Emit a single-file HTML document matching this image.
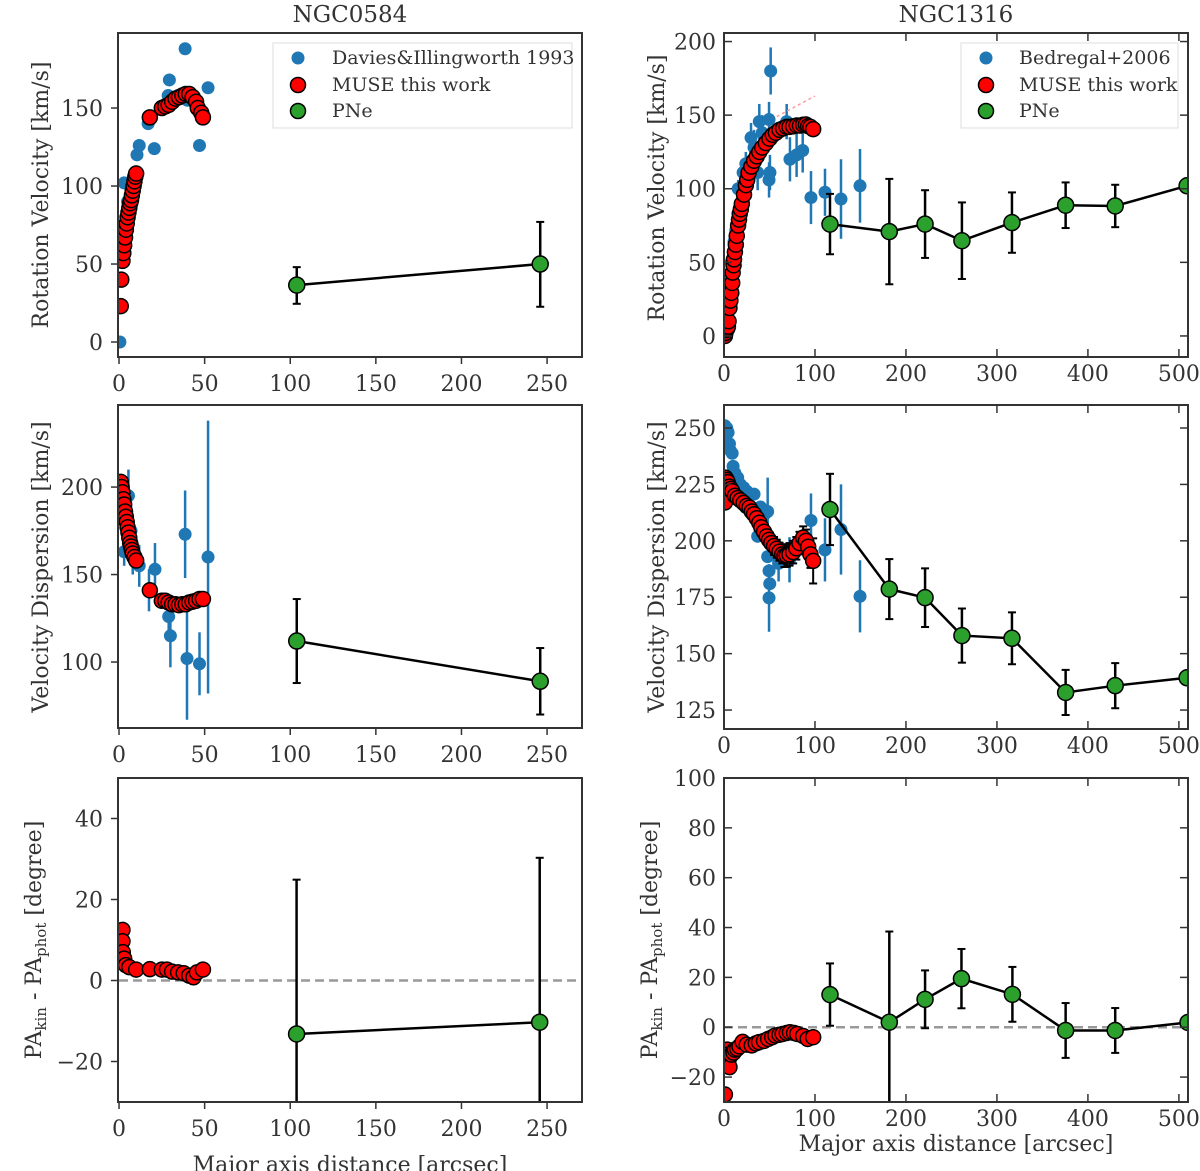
<!DOCTYPE html>
<html><head><meta charset="utf-8"><style>
html,body{margin:0;padding:0;background:#fff;}
svg{display:block;font-family:"DejaVu Serif","Liberation Serif",serif;}
</style></head><body>
<svg id="fig" width="1200" height="1171" viewBox="0 0 1200 1171" xmlns="http://www.w3.org/2000/svg"></svg>
<script>
// ===== NGC0584 data =====
const n584RotBlueX=[0.5,3,5,10.5,11.8,17,20.6,28.7,29.4,38.6,40,47,52];
const n584RotBlueY=[0,102,90,120,126,140,124,158,168,188,155,126,163];
const n584RotRedX=[1,1.3,2,2.5,3,3.5,4,4.5,5,5.5,6,6.5,7,7.5,8,8.5,9,9.5,10,18,25,27,29,31,33,35,37,39,41,43,45,46,48,49];
const n584RotRedY=[23,40,52,57,62,67,72,76,80,83,86,89,91,94,97,100,103,106,108,144,150,151,152,154,156,157,158,159,159,157,154,150,147,144];
const n584RotPNX=[103.8,246];
const n584RotPNY=[36.5,50];
const n584RotPNLo=[12,27.4];
const n584RotPNHi=[11.5,27];

const n584DispBlueX=[3,5.5,7,8,11.8,17.5,21,29,30,38.6,39.7,47,52];
const n584DispBlueY=[163,195,175,165,155,141,153,126,115,173,102,99,160];
const n584DispBlueE=[8,15,15,15,12,12,15,10,18,25,35,18,78];
const n584DispRedX=[1,1.5,2,2.5,3,3.5,4,4.5,5,5.5,6,6.5,7,7.5,8,9,10,18,25,27,29,31,33,35,37,39,41,43,45,47,49];
const n584DispRedY=[203,200,197,193,190,186,183,180,177,174,171,168,166,164,162,160,158,141,135,135,134,133,133,132.5,133,133,134,134.5,135,136,136];
const n584DispPNX=[103.8,246];
const n584DispPNY=[112,89];
const n584DispPNE=[24,19];

const n584PARedX=[2,2,2.2,3,4,6,10,18,25,28,31,34.5,37.8,41,43.5,45.5,49];
const n584PARedY=[12.5,9.7,7,5.4,3.8,3.3,2.7,2.8,2.7,2.7,2.2,2,1.8,1.2,0.8,2,2.7];
const n584PAPNX=[103.7,245.7];
const n584PAPNY=[-13.2,-10.3];
const n584PAPNE=[38.1,40.6];

// ===== NGC1316 data =====
const n1316RotBlueX=[3,5,6,8,11,13,15.6,18,21,24,27,29.7,33,37,38.8,42,49.5,49.5,50.5,51.3,68.9,72.5,79.8,86.5,95.6,111,128.6,149.5];
const n1316RotBlueY=[20,29,42,50,64,72,100,90,111,117,108,134.7,128,111,145.6,138,147,106,111,180,145.6,120,123,126,94,97.6,93,102];
const n1316RotBlueE=[5,5,5,6,6,6,6,8,8,8,10,10,12,12,12,12,12,12,12,16,12,15,15,15,18,16,27,25];
const n1316RotRedX=[1,1.5,2.5,3.5,4.3,5,6,7,8,9,9.5,10.5,11,12,13,14,15.5,16.5,17.3,18.5,19.6,22,24,25.5,27,30,33,36,38.8,42,46,50,53.6,57,61,65,68.9,72,76,80,83.5,87,90,92.5,95,98];
const n1316RotRedY=[0,2,4,5,6.3,10,19,24,29.3,36,43,48,52,57,62,68,75,79,83,86,89.7,96,102.4,106,110.8,115,119,122,125,128,131,134,136.6,138,140,141,142,142,142.4,143,142.9,143.5,143.6,142.5,142,140.5];
const n1316RotPNX=[116.5,181.7,221,261.5,316.5,375.5,430,509];
const n1316RotPNY=[76,70.9,76,64.7,77,88.8,88.3,102];
const n1316RotPNE=[20.5,35.8,23,26,20.5,15.5,14.4,0];

const n1316DispBlueX=[1,2,3,4.5,6,7,9,10,12,15,18,21.6,25,27.8,33,37,40,45,48,48,49.5,50.3,49.5,55,60,72,95.6,111,128.6,149.5];
const n1316DispBlueY=[251,246,250,248,243,240,238.8,233,230,228,225,223.6,222,220,220.7,202,215,212,213,193,186.7,181,174.7,195,190,191.6,209,196,205,175.4];
const n1316DispBlueE=[0,0,0,0,0,0,0,0,0,0,0,0,0,0,0,0,0,0,15,0,0,0,15,8,8,10,12,14,20,16];
const n1316DispRedX=[1,1.5,2,3,4,6,7.5,9,12,15,18,21.6,25,28,30.5,33,36,38.8,41,44,47,49.5,52,55,58,61,64,66.5,69,72,76,79.5,83,87,90,92.5,95,98];
const n1316DispRedY=[217,228,224,227,226,224,223,222,220,219,218,216.8,215.5,214.7,213,211.8,210,208,206,204,202,200.4,199,197.7,196.5,195.2,194,193.4,193.5,194,195,196.7,199,201.4,200,197.4,194,191.1];
const n1316DispRedE=[0,0,0,0,0,0,0,0,0,0,0,0,0,0,0,0,0,0,0,0,0,0,0,4,4,4,4,5,5,5,5,5,5,5,5,5,6,10];
const n1316DispPNX=[116.5,181.7,221,261.5,316.5,375.5,430,509];
const n1316DispPNY=[213.9,178.6,174.8,158,156.8,132.8,135.8,139.3];
const n1316DispPNE=[15.8,13.3,13,12,11.5,10,10,0];

const n1316PARedX=[1,2,3,3.5,4,5,6,8,10.5,12,14.5,17,20.5,25,30.5,35,38.5,44,48.5,53,56.5,61,64.5,69,72.5,77,80.5,87,92,98];
const n1316PARedY=[-27,-10,-12,-9,-11,-13,-16,-11,-10.2,-9,-8.6,-7.7,-5.9,-7,-7.3,-6.5,-6,-5.5,-4.7,-4,-3.3,-3,-2.7,-2.3,-2,-2.3,-2.7,-3.5,-4.7,-4];
const n1316PAPNX=[116.5,181.7,221,261,317,375.5,430,510];
const n1316PAPNY=[13.1,2,11.2,19.5,13.2,-1.3,-1.3,1.9];
const n1316PAPNE=[12.5,36.4,11.6,11.9,11,11,9,0];

const NS='http://www.w3.org/2000/svg';
const svg=document.getElementById('fig');
function mk(tag,attrs,parent){const e=document.createElementNS(NS,tag);for(const k in attrs)e.setAttribute(k,attrs[k]);(parent||svg).appendChild(e);return e;}

function panel(name,box,xlim,ylim,xticks,yticks,inward){
  const g=mk('g',{});
  
  
  const [L,T,R,B]=box;
  const sx=v=>L+(v-xlim[0])/(xlim[1]-xlim[0])*(R-L);
  const sy=v=>B-(v-ylim[0])/(ylim[1]-ylim[0])*(B-T);
  const clipId='clip-'+name;
  const cp=mk('clipPath',{id:clipId},g);mk('rect',{x:L,y:T,width:R-L,height:B-T},cp);
  const plot=mk('g',{'clip-path':'url(#'+clipId+')'},g);
  const axes=mk('g',{},g);
  const tl=8;
  xticks.forEach(v=>{
    const x=sx(v);
    if(inward){mk('line',{x1:x,y1:B,x2:x,y2:B-tl,stroke:'#333','stroke-width':1.5},axes);mk('line',{x1:x,y1:T,x2:x,y2:T+tl,stroke:'#333','stroke-width':1.5},axes);}
    else mk('line',{x1:x,y1:B,x2:x,y2:B+7,stroke:'#333','stroke-width':1.5},axes);
    const t=mk('text',{x:x,y:inward?B+24:B+34,'text-anchor':'middle','font-size':22,fill:'#333'},axes);
    
    
    t.textContent=v;
  });
  yticks.forEach(v=>{
    const y=sy(v);
    if(inward){mk('line',{x1:L,y1:y,x2:L+tl,y2:y,stroke:'#333','stroke-width':1.5},axes);mk('line',{x1:R,y1:y,x2:R-tl,y2:y,stroke:'#333','stroke-width':1.5},axes);}
    else mk('line',{x1:L,y1:y,x2:L-7,y2:y,stroke:'#333','stroke-width':1.5},axes);
    const t=mk('text',{x:inward?L-8:L-15,y:y+8,'text-anchor':'end','font-size':22,fill:'#333'},axes);
    
    
    t.textContent=(v<0?'\u2212'+(-v):v);
  });
  mk('rect',{x:L,y:T,width:R-L,height:B-T,fill:'none',stroke:'#333','stroke-width':2},axes);
  return {plot,sx,sy};
}
function errs(p,xs,ys,lo,hi,color,w,cap){
  xs.forEach((x,i)=>{
    const l=lo[i],h=hi?hi[i]:lo[i];if(!l&&!h)return;
    const X=p.sx(x);
    const e=mk('line',{x1:X,y1:p.sy(ys[i]-l),x2:X,y2:p.sy(ys[i]+h),stroke:color,'stroke-width':w},p.plot);
    
    
    if(cap){[ys[i]-l,ys[i]+h].forEach(v=>mk('line',{x1:X-4,x2:X+4,y1:p.sy(v),y2:p.sy(v),stroke:color,'stroke-width':2},p.plot));}
  });
}
function dots(p,xs,ys,name,fill,r,edge){
  xs.forEach((x,i)=>{
    const c=mk('circle',{cx:p.sx(x),cy:p.sy(ys[i]),r:r,fill:fill,stroke:edge?'#000':'none','stroke-width':edge?1.5:0},p.plot);
    
    
  });
}
function line(p,xs,ys,name){
  const d=xs.map((x,i)=>(i?'L':'M')+p.sx(x)+','+p.sy(ys[i])).join('');
  const l=mk('path',{d:d,fill:'none',stroke:'#000','stroke-width':2.5},p.plot);
  
  
}
function zero(p,x0,x1){
  const l=mk('line',{x1:p.sx(x0),x2:p.sx(x1),y1:p.sy(0),y2:p.sy(0),stroke:'#999','stroke-width':2.5,'stroke-dasharray':'9,5'},p.plot);
  
  
}
const BLUE='#1f77b4',RED='#ff0000',GREEN='#2ca02c';
const lx=[0,50,100,150,200,250], rx=[0,100,200,300,400,500];

// NGC0584 rotation
let p=panel('ngc0584-rotation-panel',[118,33,582,357],[-0.6,270.4],[-9.6,198.1],lx,[0,50,100,150],false);
dots(p,n584RotBlueX,n584RotBlueY,'davies-point',BLUE,6.5,false);
dots(p,n584RotRedX,n584RotRedY,'muse-point',RED,7.5,true);
errs(p,n584RotPNX,n584RotPNY,n584RotPNLo,n584RotPNHi,'#000',2.5,true);
line(p,n584RotPNX,n584RotPNY,'pne-line');
dots(p,n584RotPNX,n584RotPNY,'pne-point',GREEN,8,true);

// NGC0584 dispersion
p=panel('ngc0584-dispersion-panel',[118,405,582,728],[-0.6,270.4],[62.3,246.9],lx,[100,150,200],false);
errs(p,n584DispBlueX,n584DispBlueY,n584DispBlueE,null,BLUE,2.5,false);
dots(p,n584DispBlueX,n584DispBlueY,'davies-point',BLUE,6.5,false);
dots(p,n584DispRedX,n584DispRedY,'muse-point',RED,7.5,true);
errs(p,n584DispPNX,n584DispPNY,n584DispPNE,null,'#000',2.5,true);
line(p,n584DispPNX,n584DispPNY,'pne-line');
dots(p,n584DispPNX,n584DispPNY,'pne-point',GREEN,8,true);

// NGC0584 PA
p=panel('ngc0584-pa-panel',[118,778,582,1102],[-0.6,270.4],[-30,50],lx,[-20,0,20,40],false);
zero(p,0,270);
dots(p,n584PARedX,n584PARedY,'muse-point',RED,7.5,true);
errs(p,n584PAPNX,n584PAPNY,n584PAPNE,null,'#000',2.5,true);
line(p,n584PAPNX,n584PAPNY,'pne-line');
dots(p,n584PAPNX,n584PAPNY,'pne-point',GREEN,8,true);

// NGC1316 rotation
p=panel('ngc1316-rotation-panel',[724,33,1188,357],[0,510],[-14.3,205.8],rx,[0,50,100,150,200],true);
errs(p,n1316RotBlueX,n1316RotBlueY,n1316RotBlueE,null,BLUE,2.5,false);
dots(p,n1316RotBlueX,n1316RotBlueY,'bedregal-point',BLUE,6.5,false);
dots(p,n1316RotRedX,n1316RotRedY,'muse-point',RED,7.5,true);
(function(){const l=mk('line',{x1:p.sx(58),y1:p.sy(149),x2:p.sx(100),y2:p.sy(163),stroke:'#f99','stroke-width':1.5,'stroke-dasharray':'3,3'},p.plot);

})();
errs(p,n1316RotPNX,n1316RotPNY,n1316RotPNE,null,'#000',2.5,true);
line(p,n1316RotPNX,n1316RotPNY,'pne-line');
dots(p,n1316RotPNX,n1316RotPNY,'pne-point',GREEN,8,true);

// NGC1316 dispersion
p=panel('ngc1316-dispersion-panel',[724,405,1188,729],[0,510],[116.6,260.2],rx,[125,150,175,200,225,250],true);
errs(p,n1316DispBlueX,n1316DispBlueY,n1316DispBlueE,null,BLUE,2.5,false);
dots(p,n1316DispBlueX,n1316DispBlueY,'bedregal-point',BLUE,6.5,false);
errs(p,n1316DispRedX,n1316DispRedY,n1316DispRedE,null,'#000',2,true);
dots(p,n1316DispRedX,n1316DispRedY,'muse-point',RED,7.5,true);
errs(p,n1316DispPNX,n1316DispPNY,n1316DispPNE,null,'#000',2.5,true);
line(p,n1316DispPNX,n1316DispPNY,'pne-line');
dots(p,n1316DispPNX,n1316DispPNY,'pne-point',GREEN,8,true);

// NGC1316 PA
p=panel('ngc1316-pa-panel',[724,778,1188,1102],[0,510],[-30,100],rx,[-20,0,20,40,60,80,100],true);
zero(p,0,510);
dots(p,n1316PARedX,n1316PARedY,'muse-point',RED,7.5,true);
errs(p,n1316PAPNX,n1316PAPNY,n1316PAPNE,null,'#000',2.5,true);
line(p,n1316PAPNX,n1316PAPNY,'pne-line');
dots(p,n1316PAPNX,n1316PAPNY,'pne-point',GREEN,8,true);
</script>
<svg style="position:absolute;left:0;top:0" width="1200" height="1171" xmlns="http://www.w3.org/2000/svg">
<g font-family="DejaVu Serif, Liberation Serif, serif" fill="#333">
<text x="350" y="22" font-size="23" text-anchor="middle">NGC0584</text>
<text x="956" y="22" font-size="23" text-anchor="middle">NGC1316</text>
<text transform="translate(48,195) rotate(-90)" font-size="22" text-anchor="middle">Rotation Velocity [km/s]</text>
<text transform="translate(664,188) rotate(-90)" font-size="22" text-anchor="middle">Rotation Velocity [km/s]</text>
<text transform="translate(48,567) rotate(-90)" font-size="22" text-anchor="middle">Velocity Dispersion [km/s]</text>
<text transform="translate(664,567) rotate(-90)" font-size="22" text-anchor="middle">Velocity Dispersion [km/s]</text>
<text transform="translate(41,940) rotate(-90)" font-size="22" text-anchor="middle">PA<tspan font-size="15" dy="5">kin</tspan><tspan dy="-5"> - PA</tspan><tspan font-size="15" dy="5">phot</tspan><tspan dy="-5"> [degree]</tspan></text>
<text transform="translate(657,940) rotate(-90)" font-size="22" text-anchor="middle">PA<tspan font-size="15" dy="5">kin</tspan><tspan dy="-5"> - PA</tspan><tspan font-size="15" dy="5">phot</tspan><tspan dy="-5"> [degree]</tspan></text>
<text x="350" y="1172" font-size="22" text-anchor="middle">Major axis distance [arcsec]</text>
<text x="956" y="1151" font-size="22" text-anchor="middle">Major axis distance [arcsec]</text>
</g>
<g font-family="DejaVu Serif, Liberation Serif, serif" font-size="19" fill="#333">
<rect x="273" y="43" width="299" height="85" fill="#fff" fill-opacity="0.8" stroke="#ddd" stroke-width="1"/>
<circle cx="298" cy="58" r="6.5" fill="#1f77b4"/><text x="332" y="64">Davies&amp;Illingworth 1993</text>
<circle cx="298" cy="85" r="7.5" fill="#ff0000" stroke="#000" stroke-width="1.5"/><text x="332" y="91">MUSE this work</text>
<circle cx="298" cy="111" r="7.5" fill="#2ca02c" stroke="#000" stroke-width="1.5"/><text x="332" y="117">PNe</text>
</g>
<g font-family="DejaVu Serif, Liberation Serif, serif" font-size="19" fill="#333">
<rect x="961" y="43" width="217" height="85" fill="#fff" fill-opacity="0.8" stroke="#ddd" stroke-width="1"/>
<circle cx="986" cy="58" r="6.5" fill="#1f77b4"/><text x="1019" y="64">Bedregal+2006</text>
<circle cx="986" cy="85" r="7.5" fill="#ff0000" stroke="#000" stroke-width="1.5"/><text x="1019" y="91">MUSE this work</text>
<circle cx="986" cy="111" r="7.5" fill="#2ca02c" stroke="#000" stroke-width="1.5"/><text x="1019" y="117">PNe</text>
</g>
</svg>
</body></html>
